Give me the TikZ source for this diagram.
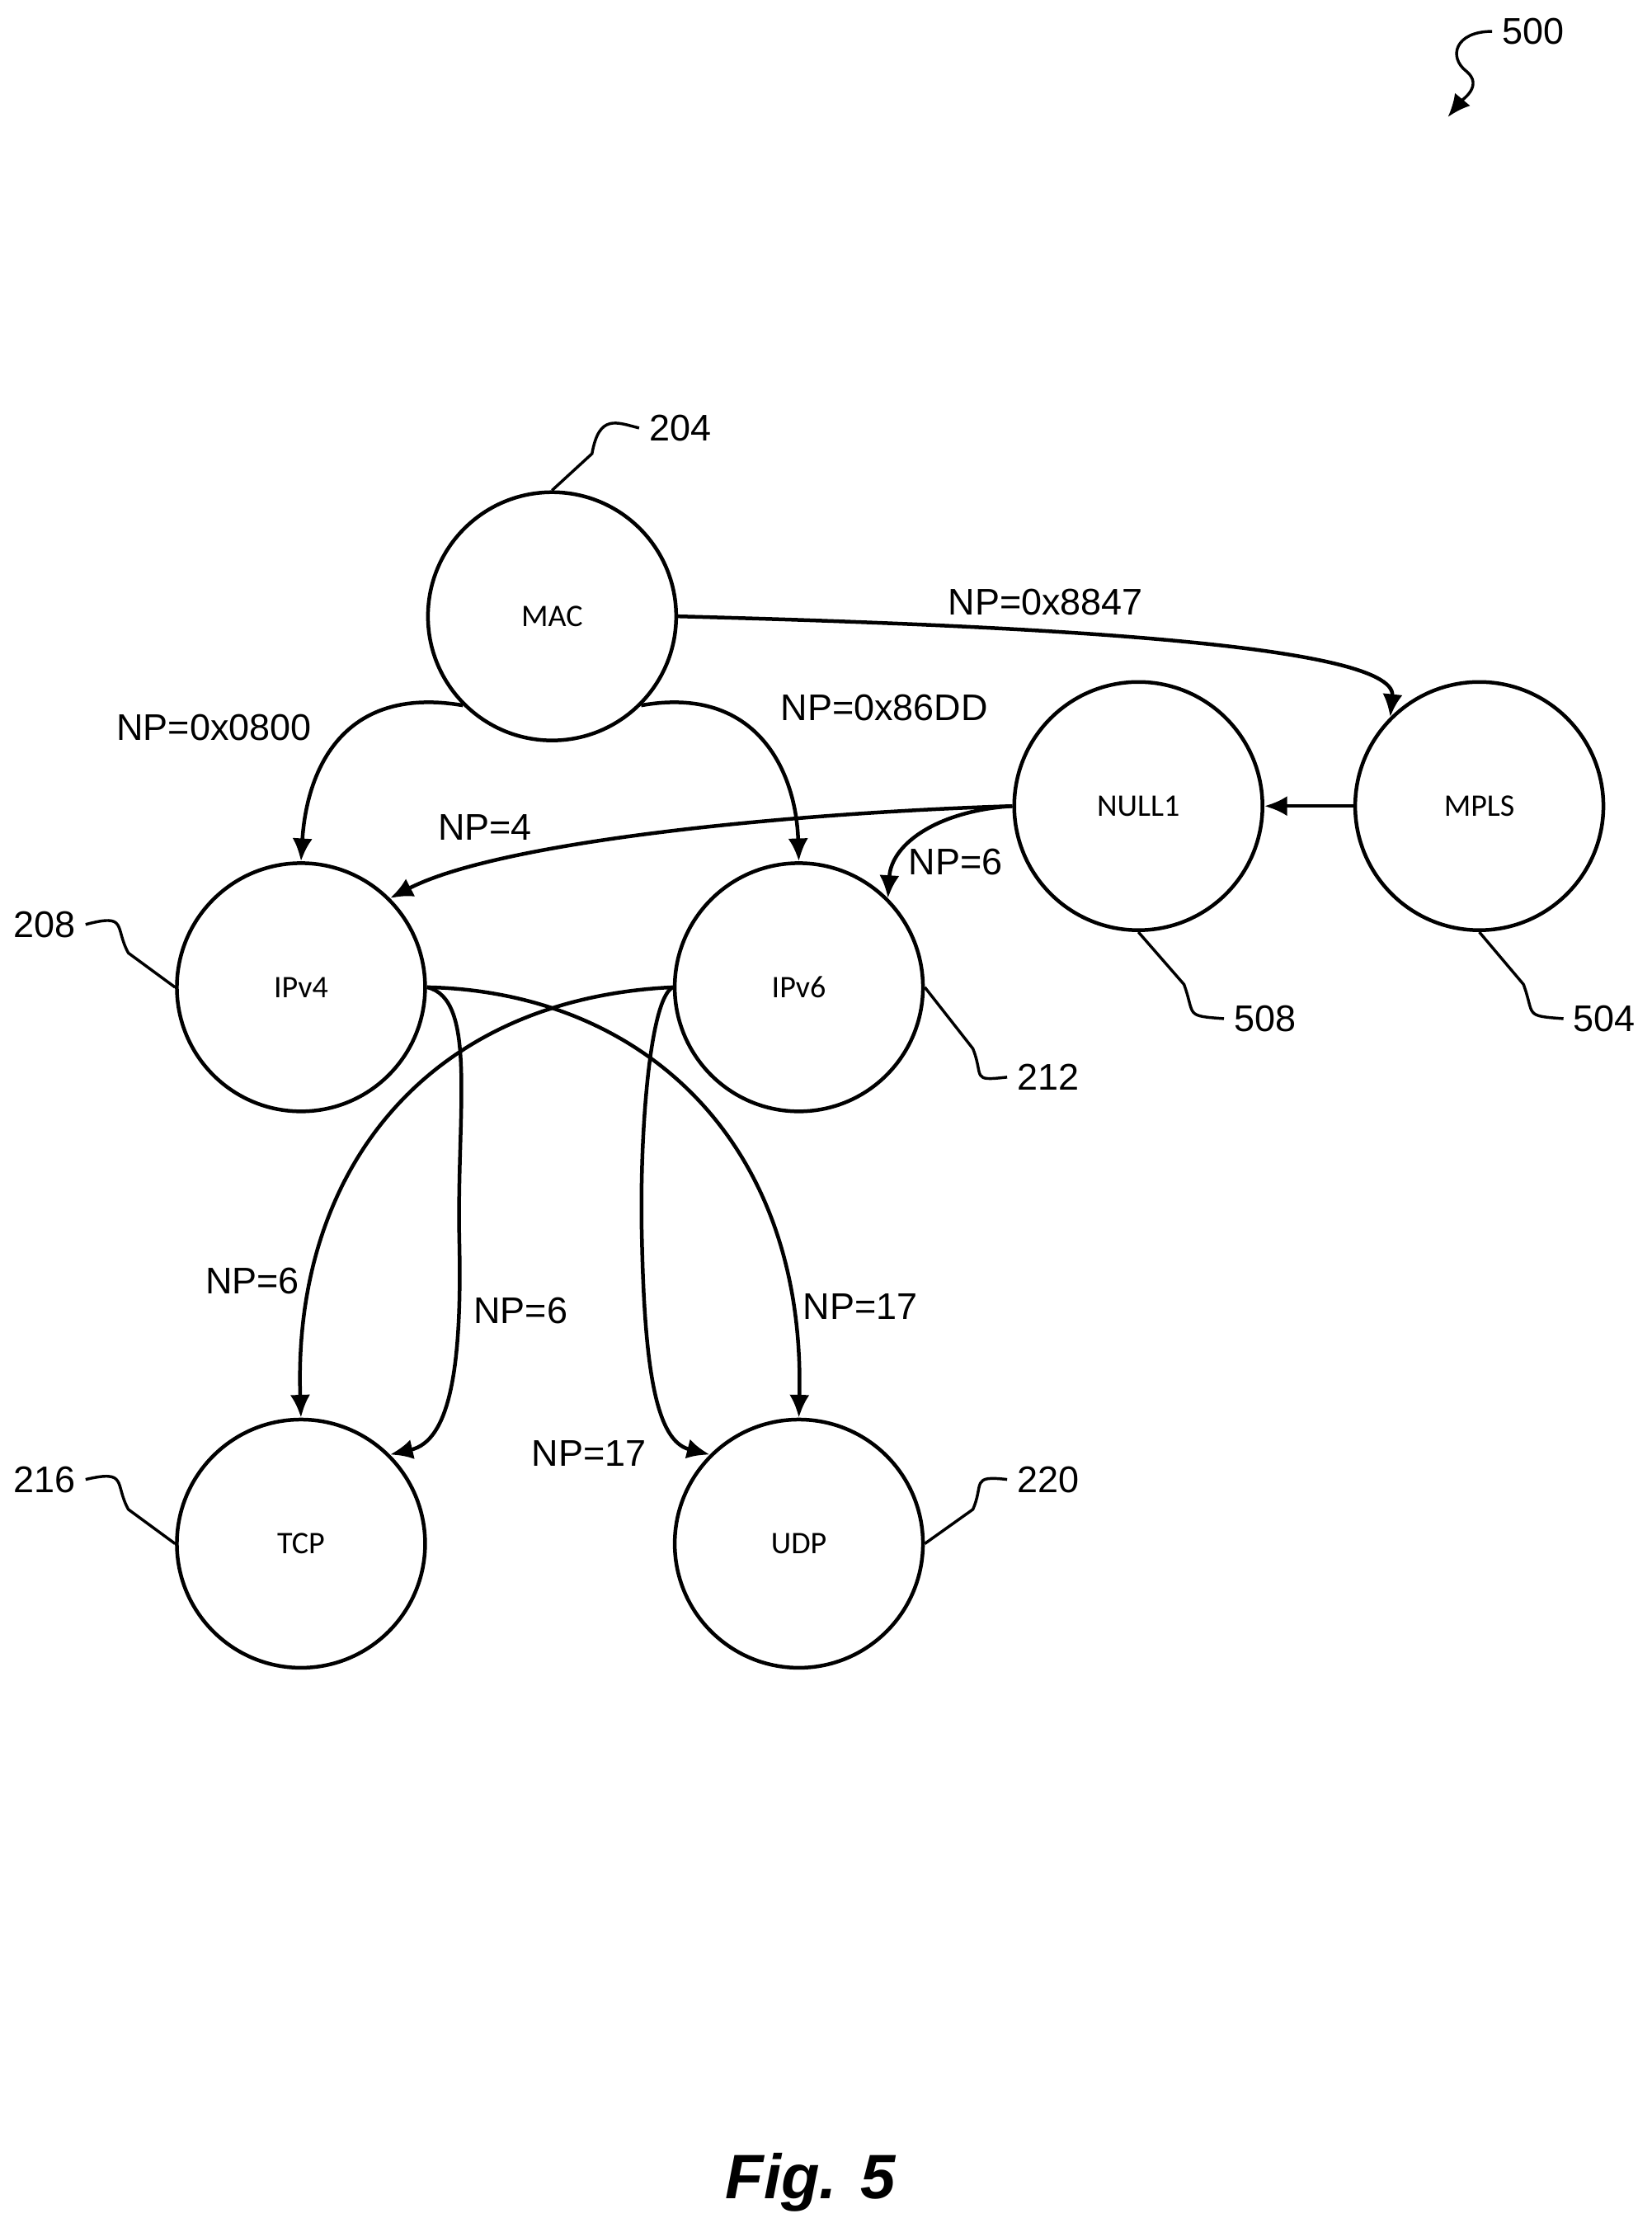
\documentclass[tikz,border=0pt]{standalone}
\usepackage{fontspec}
\setmainfont{Liberation Sans}
\newfontfamily\calib{Carlito}
\usetikzlibrary{arrows.meta}
\begin{document}
\begin{tikzpicture}[x=0.5pt,y=-0.5pt,
  st/.style={circle,draw,line width=1.3pt,minimum size=87pt,inner sep=0pt,font=\calib\fontsize{11}{13}\selectfont},
  ed/.style={line width=1.3pt,-{Latex[length=8pt,width=7pt]}},
  lb/.style={font=\fontsize{13}{15}\selectfont},
  ld/.style={line width=1pt}]
\useasboundingbox (0,0) rectangle (1158,1568);
\node[st] (mac) at (387,432) {MAC};
\node[st] (ipv4) at (211,692) {IPv4};
\node[st] (ipv6) at (560,692) {IPv6};
\node[st] (null) at (798,565) {NULL1};
\node[st] (mpls) at (1037,565) {MPLS};
\node[st] (tcp) at (211,1082) {TCP};
\node[st] (udp) at (560,1082) {UDP};
% edges
\draw[ed] (mac.east) .. controls (700,438) and (980,450) .. (mpls.north west);
\node[lb] (l1) at (733,422) {NP=0x8847};
\draw[ed] (mac.south west) .. controls (240,480) and (215,540) .. (ipv4.north);
\node[lb] (l2) at (150,510) {NP=0x0800};
\draw[ed] (mac.south east) .. controls (530,480) and (558,540) .. (ipv6.north);
\node[lb] (l3) at (620,496) {NP=0x86DD};
\draw[ed] (mpls.west) -- (null.east);
\draw[ed] (null.west) .. controls (550,570) and (350,590) .. (ipv4.north east);
\node[lb] (l4) at (340,580) {NP=4};
\draw[ed] (null.west) .. controls (660,568) and (625,590) .. (ipv6.north east);
\node[lb] (l5) at (670,604) {NP=6};
\draw[ed] (ipv4.east) .. controls (450,695) and (565,800) .. (udp.north);
\node[lb] (l6) at (603,916) {NP=17};
\draw[ed] (ipv4.east) .. controls (335,700) and (320,780) .. (322,870) .. controls (324,960) and (315,1010) .. (tcp.north east);
\node[lb] (l7) at (365,919) {NP=6};
\draw[ed] (ipv6.west) .. controls (300,700) and (205,820) .. (tcp.north);
\node[lb] (l8) at (177,898) {NP=6};
\draw[ed] (ipv6.west) .. controls (455,700) and (448,800) .. (450,870) .. controls (452,960) and (460,1010) .. (udp.north west);
\node[lb] (l9) at (413,1019) {NP=17};
% reference numerals
\node[lb,anchor=west] (n204) at (448,300) {204};
\draw[ld] (mac.north) -- (415,318) .. controls (420,290) and (432,296) .. (n204.west);
\node[lb,anchor=east] (n208) at (60,648) {208};
\draw[ld] (ipv4.west) -- (90,668) .. controls (80,650) and (90,640) .. (n208.east);
\node[lb,anchor=west] (n212) at (706,755) {212};
\draw[ld] (ipv6.east) -- (682,735) .. controls (690,755) and (680,758) .. (n212.west);
\node[lb,anchor=west] (n508) at (858,714) {508};
\draw[ld] (null.south) -- (830,690) .. controls (838,712) and (830,712) .. (n508.west);
\node[lb,anchor=west] (n504) at (1096,714) {504};
\draw[ld] (mpls.south) -- (1068,690) .. controls (1076,712) and (1068,712) .. (n504.west);
\node[lb,anchor=east] (n216) at (60,1037) {216};
\draw[ld] (tcp.west) -- (90,1058) .. controls (80,1040) and (90,1030) .. (n216.east);
\node[lb,anchor=west] (n220) at (706,1037) {220};
\draw[ld] (udp.east) -- (682,1058) .. controls (690,1040) and (680,1034) .. (n220.west);
\node[lb,anchor=west] (n500) at (1046,22) {500};
\coordinate (a500) at (1015,82);
\draw[ld,-{Latex[length=8pt,width=7pt]}] (n500.west) .. controls (1020,22) and (1015,40) .. (1028,50) .. controls (1040,60) and (1025,70) .. (a500);
\node[font=\bfseries\itshape\fontsize{22}{26}\selectfont] (fig) at (568,1530) {Fig. 5};
\end{tikzpicture}
\end{document}
